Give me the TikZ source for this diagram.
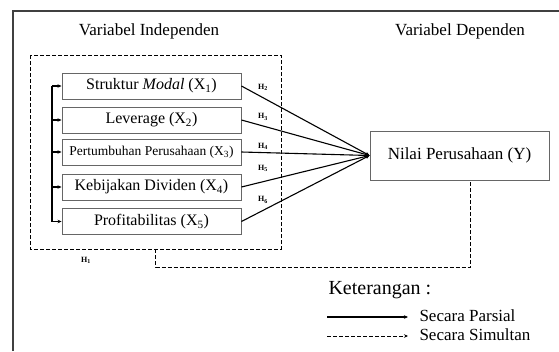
\documentclass[tikz,border=0pt]{standalone}
\usepackage{fontspec}
\setmainfont{Liberation Serif}
\usetikzlibrary{arrows.meta}
\tikzset{
  varbox/.style={draw=black!60, line width=0.9pt, minimum width=179pt, minimum height=26pt, inner sep=0pt, font=\fontsize{16}{18}\selectfont},
  hlabel/.style={font=\fontsize{8}{9}\selectfont\bfseries, inner sep=0pt},
  simul/.style={dash pattern=on 4pt off 2pt, line width=0.8pt},
  parsial/.style={line width=1.1pt},
  tip/.style={-{Stealth[length=4pt,width=3.5pt]}}
}
\begin{document}
\begin{tikzpicture}[x=1pt,y=-1pt]
\useasboundingbox (0,0) rectangle (559,351);
\draw[black!75, line width=1.4pt] (13,351) -- (13,11) -- (559,11);
\node[font=\fontsize{17}{19}\selectfont] (indep) at (149,31) {Variabel Independen};
\node[font=\fontsize{17}{19}\selectfont] (dep) at (460,31) {Variabel Dependen};
\draw[simul] (30,55) rectangle (281,249);
\coordinate (grp) at (155.5,249);
\node[varbox] (x1) at (151.5,86) {Struktur \textit{Modal} (X\textsubscript{1})};
\node[varbox] (x2) at (151.5,120) {Leverage (X\textsubscript{2})};
\node[varbox, font=\fontsize{13.5}{15}\selectfont] (x3) at (151.5,152) {Pertumbuhan Perusahaan (X\textsubscript{3})};
\node[varbox] (x4) at (151.5,187) {Kebijakan Dividen (X\textsubscript{4})};
\node[varbox] (x5) at (151.5,221.5) {Profitabilitas (X\textsubscript{5})};
\node[varbox, minimum height=49pt, font=\fontsize{17}{19}\selectfont] (y) at (459.5,155.5) {Nilai Perusahaan (Y)};
\coordinate (b1) at (52,86);
\coordinate (b2) at (52,120);
\coordinate (b3) at (52,152);
\coordinate (b4) at (52,187);
\coordinate (b5) at (52,221.5);
\draw[parsial] (b1) -- (b5);
\foreach \i in {1,...,5}{
  \draw[parsial, tip] (b\i) -- (x\i.west);
  \draw[parsial, tip] (x\i.east) -- (y.west);
}
\node[hlabel] (h2) at (263,87) {H\textsubscript{2}};
\node[hlabel] (h3) at (263,117) {H\textsubscript{3}};
\node[hlabel] (h4) at (263,146) {H\textsubscript{4}};
\node[hlabel] (h5) at (263,168) {H\textsubscript{5}};
\node[hlabel] (h6) at (263,200) {H\textsubscript{6}};
\node[hlabel] (h1) at (86,260) {H\textsubscript{1}};
\coordinate (c1) at (155.5,267);
\coordinate (c2) at (470,267);
\draw[simul] (grp) -- (c1) -- (c2) -- (c2 |- y.south);
\node[font=\fontsize{20}{22}\selectfont, anchor=west] (ket) at (325,290) {Keterangan :};
\coordinate (l1) at (327,317);
\coordinate (l2) at (408,317);
\coordinate (l3) at (327,336);
\coordinate (l4) at (408,336);
\draw[parsial, tip] (l1) -- (l2);
\draw[simul, tip] (l3) -- (l4);
\node[font=\fontsize{17}{19}\selectfont, anchor=west] (parsial) at (416,316) {Secara Parsial};
\node[font=\fontsize{17}{19}\selectfont, anchor=west] (simultan) at (416,335) {Secara Simultan};
\end{tikzpicture}
\end{document}
